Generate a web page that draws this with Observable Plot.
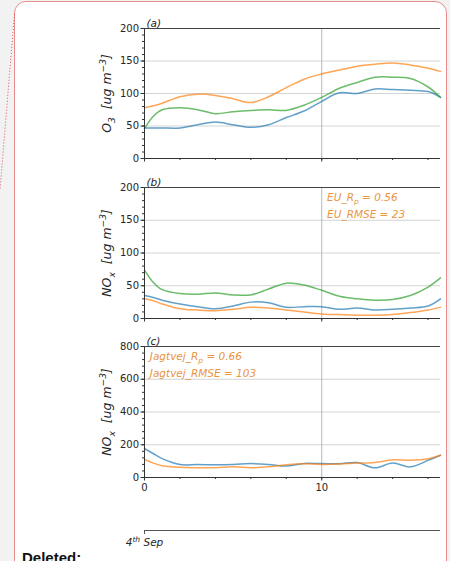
<!DOCTYPE html>
<html><head><meta charset="utf-8">
<script src="https://cdn.jsdelivr.net/npm/d3@7"></script>
<script src="https://cdn.jsdelivr.net/npm/@observablehq/plot@0.6"></script>
<style>
html,body{margin:0;padding:0;background:#f2f2f2;}
#page{position:relative;width:450px;height:561px;overflow:hidden;background:#f2f2f2;font-family:"DejaVu Sans",sans-serif;}
#box{position:absolute;left:14px;top:1px;width:431px;height:620px;background:#fff;border:1.5px solid #e88c8e;border-radius:12px;}
.panel{position:absolute;left:0;}
#deleted{position:absolute;left:22px;top:550px;font:bold 15px "Liberation Sans",Arial,sans-serif;line-height:1;color:#111;}
#deco{position:absolute;left:0;top:0;}
</style>
</head><body>
<div id="page">
  <div id="box"></div>
  <svg id="deco" width="450" height="561"><line x1="14.5" y1="14" x2="0" y2="190" stroke="#d9535a" stroke-width="1" stroke-dasharray="1,2"/></svg>
  <div id="pa" class="panel" style="top:0px"></div>
  <div id="pb" class="panel" style="top:170px"></div>
  <div id="pc" class="panel" style="top:330px"></div>
  <div id="pd" class="panel" style="top:510px"></div>
  <div id="deleted">Deleted:</div>
</div>
<script>
// ---- data ----
const days = [0, 0.5, 1, 2, 3, 4, 5, 6, 7, 8, 9, 10, 11, 12, 13, 14, 15, 16, 16.7];

const o3Blue   = [47, 47, 47, 47, 52, 56, 52, 48, 52, 63, 73, 88, 101, 100, 107, 106, 105, 103, 94];
const o3Orange = [78, 81, 85, 95, 99, 97, 92, 86, 95, 109, 122, 130, 136, 142, 145, 147, 144, 139, 134];
const o3Green  = [46, 65, 75, 78, 75, 69, 72, 74, 75, 74, 82, 94, 108, 117, 125, 125, 123, 110, 94];

const euBlue   = [35, 32, 28, 22, 18, 15, 19, 25, 24, 17, 18, 18, 14, 16, 13, 14, 16, 19, 30];
const euOrange = [30, 27, 22, 15, 13, 12, 14, 17, 16, 13, 10, 7, 6, 5, 5, 6, 9, 13, 17];
const euGreen  = [74, 55, 44, 38, 37, 39, 36, 36, 45, 54, 51, 43, 34, 30, 28, 29, 35, 48, 62];

const jgBlue   = [177, 145, 115, 79, 79, 78, 80, 85, 80, 70, 86, 85, 84, 91, 59, 88, 65, 105, 136];
const jgOrange = [110, 88, 72, 62, 60, 59, 65, 59, 65, 78, 84, 80, 82, 88, 92, 108, 106, 115, 136];

const o3Ticks = [0, 50, 100, 150, 200];
const noxTicksB = [0, 50, 100, 150, 200];
const noxTicksC = [0, 200, 400, 600, 800];
const xLabelTicks = [0, 10];
const xMinorTicks = [0, 2, 4, 6, 8, 10, 12, 14, 16];

const annB = ["EU_R\u209A = 0.56", "EU_RMSE = 23"];
const annC = ["Jagtvej_R\u209A = 0.66", "Jagtvej_RMSE = 103"];

const colors = {blue: "#1f77b4", orange: "#ff7f0e", green: "#2ca02c"};
const annColor = "#e9953f";

function rows(vals) { return days.map((d, i) => ({x: d, y: vals[i]})); }

// turn unicode sub/superscript characters into real tspans
const scriptMap = {"\u2083": ["3", "sub"], "\u2093": ["x", "sub"], "\u209A": ["p", "sub"],
  "\u207B": ["\u2212", "sup"], "\u00B3": ["3", "sup"], "\u1D57": ["t", "sup"], "\u02B0": ["h", "sup"]};
function scriptify(root) {
  const ns = "http://www.w3.org/2000/svg";
  root.querySelectorAll("text").forEach(t => {
    if (t.querySelector("tspan")) return;
    const s = t.textContent;
    if (![...s].some(c => scriptMap[c])) return;
    const fs = parseFloat(getComputedStyle(t).fontSize) || 10;
    const segs = [];
    for (const c of s) {
      const kind = scriptMap[c] ? scriptMap[c][1] : "n";
      const ch = scriptMap[c] ? scriptMap[c][0] : c;
      if (segs.length && segs[segs.length - 1].kind === kind) segs[segs.length - 1].text += ch;
      else segs.push({kind, text: ch});
    }
    t.textContent = "";
    let shift = 0;
    segs.forEach(seg => {
      const ts = document.createElementNS(ns, "tspan");
      const target = seg.kind === "sub" ? 0.28 * fs : seg.kind === "sup" ? -0.42 * fs : 0;
      ts.setAttribute("dy", (target - shift).toFixed(2));
      shift = target;
      if (seg.kind !== "n") ts.setAttribute("font-size", (fs * 0.72).toFixed(2));
      ts.textContent = seg.text;
      t.appendChild(ts);
    });
  });
}

function panel({el, height, mt, mb, ticks, minorStep, label, tag, series, showX, ann, annX, annY}) {
  const ymax = ticks[ticks.length - 1];
  const minor = d3.range(0, ymax + 0.001, minorStep);
  const marks = [
    Plot.gridY(ticks.slice(1, -1), {stroke: "#b8b8b8", strokeOpacity: 0.6}),
    Plot.gridX([10], {stroke: "#a8a8a8", strokeOpacity: 0.8}),
    Plot.axisY(minor, {tickSize: 2, tickFormat: () => "", label: null, stroke: "#333"}),
    Plot.axisY(ticks, {tickSize: 3.5, tickPadding: 2, label: null, stroke: "#333", fill: "#262626"}),
    Plot.axisX(xMinorTicks, {tickSize: 2, tickFormat: () => "", label: null, stroke: "#333"}),
    Plot.axisX(xLabelTicks, {tickSize: 3.5, tickPadding: 3, label: null, stroke: "#333", fill: "#262626",
      tickFormat: showX ? (d => String(d)) : (() => "")}),
    ...series.map(s => Plot.line(rows(s.v), {x: "x", y: "y", stroke: colors[s.c], strokeWidth: 1.5, strokeOpacity: 0.7, curve: "catmull-rom"})),
    Plot.ruleX([0], {stroke: "#333"}),
    Plot.ruleY([0], {stroke: "#333"}),
    Plot.ruleY([ymax], {stroke: "#444"}),
    Plot.text([label], {x: -37 / 17.72, y: ymax / 2, rotate: -90, fontStyle: "italic", fontSize: 12.5, fill: "#262626"}),
    Plot.text([tag], {frameAnchor: "top-left", lineAnchor: "bottom", textAnchor: "start", dx: 2, dy: -2, fontStyle: "italic", fontSize: 10.5, fill: "#262626"})
  ];
  if (ann) {
    marks.push(Plot.text(ann.map((t, i) => ({t, y: annY[i]})), {x: annX, y: "y", text: "t", textAnchor: "start", lineAnchor: "bottom", fontStyle: "italic", fontSize: 10.5, fill: annColor}));
  }
  const p = Plot.plot({
    width: 450, height, marginLeft: 144, marginRight: 10, marginTop: mt, marginBottom: mb,
    style: {fontFamily: "DejaVu Sans", fontSize: "10px", background: "transparent", overflow: "visible", color: "#262626"},
    x: {domain: [0, 16.7]},
    y: {domain: [0, ymax]},
    marks
  });
  document.getElementById(el).appendChild(p);
  scriptify(p);
}

panel({el: "pa", height: 170, mt: 28, mb: 12, ticks: o3Ticks, minorStep: 10,
  label: "O\u2083  [ug m\u207B\u00B3]", tag: "(a)",
  series: [{v: o3Blue, c: "blue"}, {v: o3Orange, c: "orange"}, {v: o3Green, c: "green"}], showX: false});

panel({el: "pb", height: 160, mt: 17, mb: 12, ticks: noxTicksB, minorStep: 10,
  label: "NO\u2093  [ug m\u207B\u00B3]", tag: "(b)",
  series: [{v: euBlue, c: "blue"}, {v: euOrange, c: "orange"}, {v: euGreen, c: "green"}], showX: false,
  ann: annB, annX: 10.3, annY: [180, 154]});

panel({el: "pc", height: 170, mt: 16, mb: 23, ticks: noxTicksC, minorStep: 40,
  label: "NO\u2093  [ug m\u207B\u00B3]", tag: "(c)",
  series: [{v: jgBlue, c: "blue"}, {v: jgOrange, c: "orange"}], showX: true,
  ann: annC, annX: 0.3, annY: [718, 614]});

// date axis
const dateLabel = ["4\u1D57\u02B0 Sep"];
const pd = Plot.plot({
  width: 450, height: 40, marginLeft: 144, marginRight: 10, marginTop: 20, marginBottom: 16,
  style: {fontFamily: "DejaVu Sans", fontSize: "10px", background: "transparent", overflow: "visible", color: "#262626"},
  x: {domain: [0, 16.7], axis: null}, y: {domain: [0, 1], axis: null},
  marks: [
    Plot.ruleY([1], {stroke: "#555"}),
    Plot.ruleX([0], {stroke: "#555"}),
    Plot.text(dateLabel, {x: 0, frameAnchor: "bottom", lineAnchor: "top", dy: 4, fontStyle: "italic", fontSize: 10.5, fill: "#262626"})
  ]
});
document.getElementById("pd").appendChild(pd);
scriptify(pd);
</script>
</body></html>
